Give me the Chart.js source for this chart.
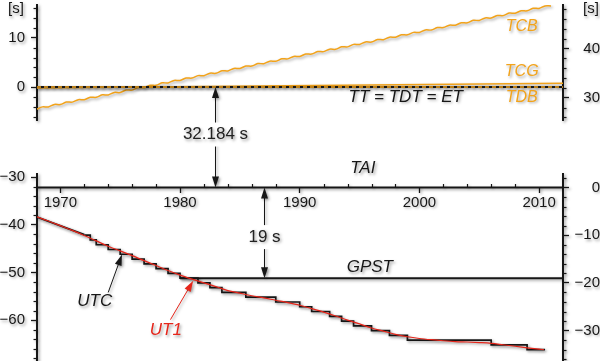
<!DOCTYPE html>
<html>
<head>
<meta charset="utf-8">
<script src="https://cdn.jsdelivr.net/npm/chart.js@4.4.1/dist/chart.umd.min.js"></script>
<style>
html,body{margin:0;padding:0;background:#ffffff;}
#wrap{position:relative;width:600px;height:361px;}
canvas{display:block;}
</style>
</head>
<body>
<div id="wrap"><canvas id="chart" width="600" height="361"></canvas></div>
<script>
// ---------- data (years, seconds) ----------
// top panel: seconds relative to TT (left axis)
const ttLine  = [[1968.05, 0], [2012, 0]];
const tdbLine = [[1968.05, 0], [2012, 0]];
const tcgLine = [[1968.05, -0.2], [2012, 0.77]];
const tcbValues = [
  [1968.0,-4.53],[1968.5,-4.03],[1969.0,-4.04],[1969.5,-3.54],[1970.0,-3.55],[1970.5,-3.05],
  [1971.0,-3.06],[1971.5,-2.56],[1972.0,-2.58],[1972.5,-2.07],[1973.0,-2.09],[1973.5,-1.58],
  [1974.0,-1.60],[1974.5,-1.09],[1975.0,-1.11],[1975.5,-0.60],[1976.0,-0.62],[1976.5,-0.11],
  [1977.0,-0.13],[1977.5,0.37],[1978.0,0.36],[1978.5,0.86],[1979.0,0.85],[1979.5,1.35],
  [1980.0,1.34],[1980.5,1.84],[1981.0,1.83],[1981.5,2.33],[1982.0,2.32],[1982.5,2.82],
  [1983.0,2.80],[1983.5,3.31],[1984.0,3.29],[1984.5,3.80],[1985.0,3.78],[1985.5,4.29],
  [1986.0,4.27],[1986.5,4.78],[1987.0,4.76],[1987.5,5.27],[1988.0,5.25],[1988.5,5.75],
  [1989.0,5.74],[1989.5,6.24],[1990.0,6.23],[1990.5,6.73],[1991.0,6.72],[1991.5,7.22],
  [1992.0,7.21],[1992.5,7.71],[1993.0,7.69],[1993.5,8.20],[1994.0,8.18],[1994.5,8.69],
  [1995.0,8.67],[1995.5,9.18],[1996.0,9.16],[1996.5,9.67],[1997.0,9.65],[1997.5,10.16],
  [1998.0,10.14],[1998.5,10.64],[1999.0,10.63],[1999.5,11.13],[2000.0,11.12],[2000.5,11.62],
  [2001.0,11.61],[2001.5,12.11],[2002.0,12.10],[2002.5,12.60],[2003.0,12.58],[2003.5,13.09],
  [2004.0,13.07],[2004.5,13.58],[2005.0,13.56],[2005.5,14.07],[2006.0,14.05],[2006.5,14.56],
  [2007.0,14.54],[2007.5,15.05],[2008.0,15.03],[2008.5,15.53],[2009.0,15.52],[2009.5,16.02],
  [2010.0,16.01],[2010.5,16.51],[2011.0,16.50]
];
// bottom panel: seconds relative to TAI (right axis)
const taiLine  = [[1968.05, 0], [2012, 0]];
const gpstLine = [[1980.0, -19], [2012, -19]];
const utcRubber = [[1968.05, -6.19], [1972.0, -9.89]];
const utcSteps = [
  [1972.0,-10],[1972.5,-11],[1973.0,-12],[1974.0,-13],[1975.0,-14],[1976.0,-15],
  [1977.0,-16],[1978.0,-17],[1979.0,-18],[1980.0,-19],[1981.5,-20],[1982.5,-21],
  [1983.5,-22],[1985.5,-23],[1988.0,-24],[1990.0,-25],[1991.0,-26],[1992.5,-27],
  [1993.5,-28],[1994.5,-29],[1996.0,-30],[1997.5,-31],[1999.0,-32],[2006.0,-33],
  [2009.0,-34],[2010.5,-34]
];
const ut1Values = [
  [1968.0,-6.11],[1969.0,-7.02],[1970.0,-8.00],[1971.0,-8.99],[1972.0,-10.05],[1973.0,-11.19],
  [1974.0,-12.31],[1975.0,-13.30],[1976.0,-14.28],[1977.0,-15.34],[1978.0,-16.35],[1979.0,-17.41],
  [1980.0,-18.36],[1981.0,-19.20],[1982.0,-19.99],[1983.0,-20.78],[1984.0,-21.61],[1985.0,-22.16],
  [1986.0,-22.69],[1987.0,-23.14],[1988.0,-23.64],[1989.0,-24.12],[1990.0,-24.68],[1991.0,-25.39],
  [1992.0,-26.13],[1993.0,-26.94],[1994.0,-27.80],[1995.0,-28.60],[1996.0,-29.45],[1997.0,-30.12],
  [1998.0,-30.79],[1999.0,-31.29],[2000.0,-31.65],[2001.0,-31.91],[2002.0,-32.12],[2003.0,-32.29],
  [2004.0,-32.39],[2005.0,-32.51],[2006.0,-32.67],[2007.0,-32.97],[2008.0,-33.28],[2009.0,-33.60],
  [2010.0,-33.89],[2010.4,-34.00]
];
const offsetLabels = ['32.184 s', '19 s'];

// ---------- styles ----------
const ORANGE = '#f2a31b';
const RED = '#e6261b';
const INK = '#171717';
const FONT = '"Liberation Sans", Arial, Helvetica, sans-serif';
Chart.defaults.font.family = FONT;

// annotation placement (data coordinates)
const texts = [
  {t:'TCB', x:2008.55, y:12.25, ax:'yT', c:ORANGE, s:16},
  {t:'TCG', x:2008.55, y:3.06, ax:'yT', c:ORANGE, s:16},
  {t:'TDB', x:2008.55, y:-2.1, ax:'yT', c:ORANGE, s:16},
  {t:'TT = TDT = ET', x:1998.86, y:-2.0, ax:'yT', c:INK, s:17},
  {t:'TAI', x:1995.27, y:3.99, ax:'rB', c:INK, s:17},
  {t:'GPST', x:1995.86, y:-16.78, ax:'rB', c:INK, s:17},
  {t:'UTC', x:1972.88, y:-23.9, ax:'rB', c:INK, s:17},
  {t:'UT1', x:1978.81, y:-30.0, ax:'rB', c:RED, s:17}
];
const spans = [
  {x:1982.9, a:{ax:'yT', v:0}, b:{ax:'rB', v:0}, lab:{ax:'rB', v:11.1}, text:offsetLabels[0]},
  {x:1987.0, a:{ax:'rB', v:0}, b:{ax:'rB', v:-19}, lab:{ax:'rB', v:-10.4}, text:offsetLabels[1]}
];
const pointers = [
  {from:[1974.0,-22.0], to:[1975.15,-14.05], c:INK},
  {from:[1979.2,-27.7], to:[1981.1,-19.55], c:RED}
];

const yFmt = v => (v < 0 ? '\u2212' + Math.abs(v) : String(v));
const fixW = s => { s.width = 37; s.paddingTop = 0; s.paddingBottom = 0; };

function yAxis(pos, weight, stackWeight, min, max) {
  return {
    type:'linear', position:pos, stack:'v', weight:weight, stackWeight:stackWeight,
    min:min, max:max, afterFit:fixW,
    border:{display:true, color:INK, width:2},
    grid:{display:true, drawOnChartArea:false, drawTicks:true, tickLength:6, tickColor:INK, tickWidth:1.3},
    ticks:{stepSize:10, includeBounds:false, padding:6, color:INK, font:{size:15, family:FONT},
           crossAlign: pos === 'right' ? 'far' : 'near', callback:yFmt}
  };
}
function gapAxis(pos, weight) {
  return {type:'linear', position:pos, stack:'v', weight:weight, stackWeight:53.5, min:0, max:1,
    afterFit:fixW, border:{display:false}, grid:{display:false}, ticks:{display:false}};
}

function drawArrowHead(ctx, x1, y1, x2, y2, len, wid) {
  const a = Math.atan2(y2 - y1, x2 - x1);
  const cx = x2 - len * Math.cos(a), cy = y2 - len * Math.sin(a);
  ctx.beginPath();
  ctx.moveTo(x2, y2);
  ctx.lineTo(cx + wid / 2 * Math.sin(a), cy - wid / 2 * Math.cos(a));
  ctx.lineTo(cx - wid / 2 * Math.sin(a), cy + wid / 2 * Math.cos(a));
  ctx.closePath();
  ctx.fill();
}

const shadowPlugin = {
  id:'shadow',
  beforeDraw(chart) {
    const c = chart.ctx; c.save();
    c.shadowColor = 'rgba(0,0,0,0.38)'; c.shadowBlur = 3; c.shadowOffsetX = 1.5; c.shadowOffsetY = 1.5;
  },
  afterDraw(chart) { chart.ctx.restore(); }
};

const minorTicks = {
  id:'minorTicks',
  beforeDatasetsDraw(chart) {
    const ctx = chart.ctx, L = 3.5;
    ctx.save();
    ctx.strokeStyle = INK; ctx.lineWidth = 1.2;
    [['yT','left'],['yB','left'],['rT','right'],['rB','right']].forEach(([id, side]) => {
      const s = chart.scales[id];
      for (let v = Math.ceil(s.min / 2) * 2; v <= s.max; v += 2) {
        if (Math.abs(v % 10) < 1e-9) continue;
        const y = Math.round(s.getPixelForValue(v)) + 0.5;
        ctx.beginPath();
        if (side === 'left') { ctx.moveTo(s.right - L, y); ctx.lineTo(s.right, y); }
        else { ctx.moveTo(s.left, y); ctx.lineTo(s.left + L, y); }
        ctx.stroke();
      }
    });
    const xs = chart.scales.x, y0 = chart.scales.rB.getPixelForValue(0);
    for (let v = Math.ceil(xs.min / 2) * 2; v < xs.max - 0.5; v += 2) {
      if (v % 10 === 0) continue;
      const x = Math.round(xs.getPixelForValue(v)) + 0.5;
      ctx.beginPath(); ctx.moveTo(x, y0); ctx.lineTo(x, y0 - L); ctx.stroke();
    }
    ctx.restore();
  }
};

const annotations = {
  id:'annotations',
  afterDatasetsDraw(chart) {
    const ctx = chart.ctx, sc = chart.scales, xs = sc.x;
    ctx.save();
    spans.forEach(sp => {
      const x = Math.round(xs.getPixelForValue(sp.x)) + 0.5;
      const ya = sc[sp.a.ax].getPixelForValue(sp.a.v);
      const yb = sc[sp.b.ax].getPixelForValue(sp.b.v);
      ctx.strokeStyle = INK; ctx.fillStyle = INK; ctx.lineWidth = 1;
      ctx.beginPath(); ctx.moveTo(x, ya + 6); ctx.lineTo(x, yb - 6); ctx.stroke();
      drawArrowHead(ctx, x, yb, x, ya, 11, 7);
      drawArrowHead(ctx, x, ya, x, yb, 11, 7);
      const ly = sc[sp.lab.ax].getPixelForValue(sp.lab.v);
      ctx.font = '17px ' + FONT;
      const w = ctx.measureText(sp.text).width;
      ctx.save();
      ctx.shadowColor = 'rgba(0,0,0,0)';
      ctx.fillStyle = '#ffffff';
      ctx.fillRect(x - w / 2 - 3, ly - 12, w + 6, 24);
      ctx.restore();
      ctx.fillStyle = '#222222';
      ctx.textAlign = 'center'; ctx.textBaseline = 'middle';
      ctx.fillText(sp.text, x, ly);
    });
    pointers.forEach(p => {
      const x1 = xs.getPixelForValue(p.from[0]), y1 = sc.rB.getPixelForValue(p.from[1]);
      const x2 = xs.getPixelForValue(p.to[0]), y2 = sc.rB.getPixelForValue(p.to[1]);
      const a = Math.atan2(y2 - y1, x2 - x1);
      ctx.strokeStyle = p.c; ctx.fillStyle = p.c; ctx.lineWidth = 1;
      ctx.beginPath(); ctx.moveTo(x1, y1); ctx.lineTo(x2 - 8 * Math.cos(a), y2 - 8 * Math.sin(a)); ctx.stroke();
      drawArrowHead(ctx, x1, y1, x2, y2, 11, 7);
    });
    texts.forEach(t => {
      ctx.font = 'italic ' + t.s + 'px ' + FONT;
      ctx.fillStyle = t.c; ctx.textAlign = 'center'; ctx.textBaseline = 'middle';
      ctx.fillText(t.t, xs.getPixelForValue(t.x), sc[t.ax].getPixelForValue(t.y));
    });
    ctx.font = '15px ' + FONT; ctx.fillStyle = INK; ctx.textBaseline = 'middle';
    ctx.textAlign = 'center';
    ctx.fillText('[s]', sc.yT.left + 16, sc.yT.top + 4);
    ctx.fillText('[s]', sc.rT.left + 28, sc.rT.top + 4);
    ctx.restore();
  }
};

const line = (label, data, axis, color, width, extra) => Object.assign({
  label, data, yAxisID:axis, borderColor:color, borderWidth:width, fill:false, pointRadius:0
}, extra || {});

new Chart(document.getElementById('chart'), {
  type:'line',
  data:{
    datasets:[
      line('TDB', tdbLine, 'yT', ORANGE, 1.5, {borderDash:[4,3], order:0}),
      line('TT', ttLine, 'yT', INK, 2, {order:1}),
      line('TCG', tcgLine, 'yT', ORANGE, 1.5, {order:2}),
      line('TCB', tcbValues, 'yT', ORANGE, 1.5, {tension:0.4, order:3}),
      line('UT1', ut1Values, 'rB', RED, 1.2, {cubicInterpolationMode:'monotone', order:0}),
      line('UTC', utcSteps, 'rB', INK, 1.7, {stepped:true, order:1}),
      line('UTC (pre-1972)', utcRubber, 'rB', INK, 1.7, {order:1}),
      line('GPST', gpstLine, 'rB', INK, 2, {order:2}),
      line('TAI', taiLine, 'rB', INK, 2, {order:2})
    ]
  },
  options:{
    responsive:false, animation:false, devicePixelRatio:1, events:[],
    layout:{padding:{top:5, left:0, right:0, bottom:0}},
    plugins:{legend:{display:false}, tooltip:{enabled:false}, title:{display:false}},
    scales:{
      x:{type:'linear', min:1968.05, max:2012, position:{rB:0},
         border:{display:false},
         grid:{display:true, drawOnChartArea:false, drawTicks:true, tickLength:6, tickColor:INK, tickWidth:1.3},
         ticks:{stepSize:10, includeBounds:false, padding:0, color:INK, font:{size:15, family:FONT},
                maxRotation:0, callback:v => String(v)}},
      yT:yAxis('left', 3, 115, -6.7, 16.7),
      yGap:gapAxis('left', 2),
      yB:yAxis('left', 1, 187.5, -68.55, -29.25),
      rT:yAxis('right', 1, 115, 25.48, 48.88),
      rGap:gapAxis('right', 2),
      rB:yAxis('right', 3, 187.5, -36.37, 2.93)
    }
  },
  plugins:[shadowPlugin, minorTicks, annotations]
});
</script>
</body>
</html>
